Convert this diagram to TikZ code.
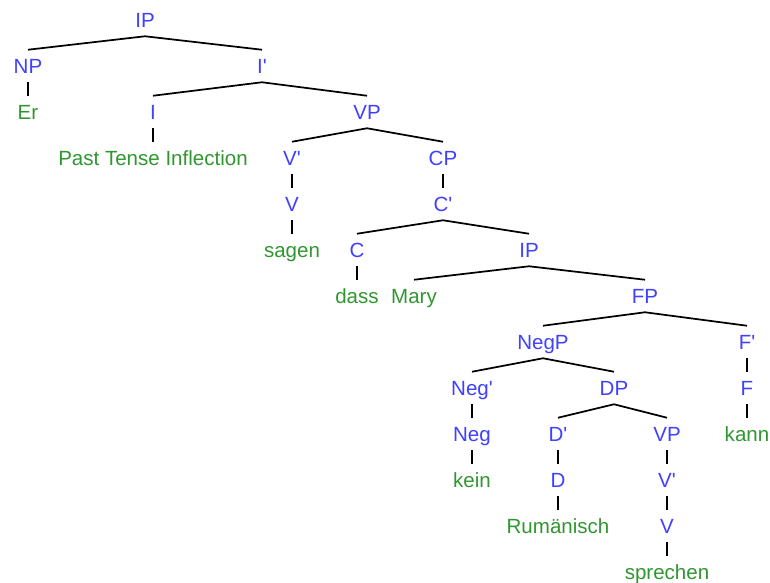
\documentclass[tikz,border=0pt]{standalone}
\usepackage{fontspec}
\setmainfont{Liberation Sans}
\usepackage{xcolor}
\usetikzlibrary{positioning}
\definecolor{catblue}{RGB}{64,64,255}
\definecolor{wordgreen}{RGB}{48,150,48}
\newcommand{\pr}{\textquotesingle}

\begin{document}
\begin{tikzpicture}[x=0.75pt,y=-0.75pt,
        cat/.style={text=catblue, inner sep=0pt, minimum height=24pt,
                    text height=11pt, text depth=0pt,
                    font=\fontsize{15.4}{18}\selectfont},
        word/.style={cat, text=wordgreen},
        branch/.style={line width=1.3pt},
        unary/.style={line width=0.9pt}]
        \useasboundingbox (0,0) rectangle (770,582);

        \node[cat] (ip) at (145,20) {IP};
        \node[cat] (np) at (28,66) {NP};
        \node[cat] (ibar) at (262,66) {I\pr};
        \node[word] (er) at (28,112) {Er};
        \node[cat] (i) at (153,112) {I};
        \node[cat] (vp) at (367,112) {VP};
        \node[word] (pti) at (153,158) {Past Tense Inflection};
        \node[cat] (vbar) at (292,158) {V\pr};
        \node[cat] (cp) at (443,158) {CP};
        \node[cat] (v) at (292,204) {V};
        \node[cat] (cbar) at (443,204) {C\pr};
        \node[word] (sagen) at (292,250) {sagen};
        \node[cat] (c) at (357,250) {C};
        \node[cat] (ipb) at (529,250) {IP};
        \node[word] (dass) at (357,296) {dass};
        \node[word] (mary) at (414,296) {Mary};
        \node[cat] (fp) at (645,296) {FP};
        \node[cat] (negp) at (543,342) {NegP};
        \node[cat] (fbar) at (747,342) {F\pr};
        \node[cat] (negbar) at (472,388) {Neg\pr};
        \node[cat] (dp) at (614,388) {DP};
        \node[cat] (f) at (747,388) {F};
        \node[cat] (neg) at (472,434) {Neg};
        \node[cat] (dbar) at (558,434) {D\pr};
        \node[cat] (vpb) at (667,434) {VP};
        \node[word] (kann) at (747,434) {kann};
        \node[word] (kein) at (472,480) {kein};
        \node[cat] (d) at (558,480) {D};
        \node[cat] (vbarb) at (667,480) {V\pr};
        \node[word] (rum) at (558,526) {Rumänisch};
        \node[cat] (vb) at (667,526) {V};
        \node[word] (spr) at (667,572) {sprechen};

        \draw[branch] (ip.south) -- (np.north);
        \draw[branch] (ip.south) -- (ibar.north);
        \draw[unary] (np.south) -- (er.north);
        \draw[branch] (ibar.south) -- (i.north);
        \draw[branch] (ibar.south) -- (vp.north);
        \draw[unary] (i.south) -- (pti.north);
        \draw[branch] (vp.south) -- (vbar.north);
        \draw[branch] (vp.south) -- (cp.north);
        \draw[unary] (vbar.south) -- (v.north);
        \draw[unary] (v.south) -- (sagen.north);
        \draw[unary] (cp.south) -- (cbar.north);
        \draw[branch] (cbar.south) -- (c.north);
        \draw[branch] (cbar.south) -- (ipb.north);
        \draw[unary] (c.south) -- (dass.north);
        \draw[branch] (ipb.south) -- (mary.north);
        \draw[branch] (ipb.south) -- (fp.north);
        \draw[branch] (fp.south) -- (negp.north);
        \draw[branch] (fp.south) -- (fbar.north);
        \draw[unary] (fbar.south) -- (f.north);
        \draw[unary] (f.south) -- (kann.north);
        \draw[branch] (negp.south) -- (negbar.north);
        \draw[branch] (negp.south) -- (dp.north);
        \draw[unary] (negbar.south) -- (neg.north);
        \draw[unary] (neg.south) -- (kein.north);
        \draw[branch] (dp.south) -- (dbar.north);
        \draw[branch] (dp.south) -- (vpb.north);
        \draw[unary] (dbar.south) -- (d.north);
        \draw[unary] (d.south) -- (rum.north);
        \draw[unary] (vpb.south) -- (vbarb.north);
        \draw[unary] (vbarb.south) -- (vb.north);
        \draw[unary] (vb.south) -- (spr.north);

    \end{tikzpicture}
\end{document}
